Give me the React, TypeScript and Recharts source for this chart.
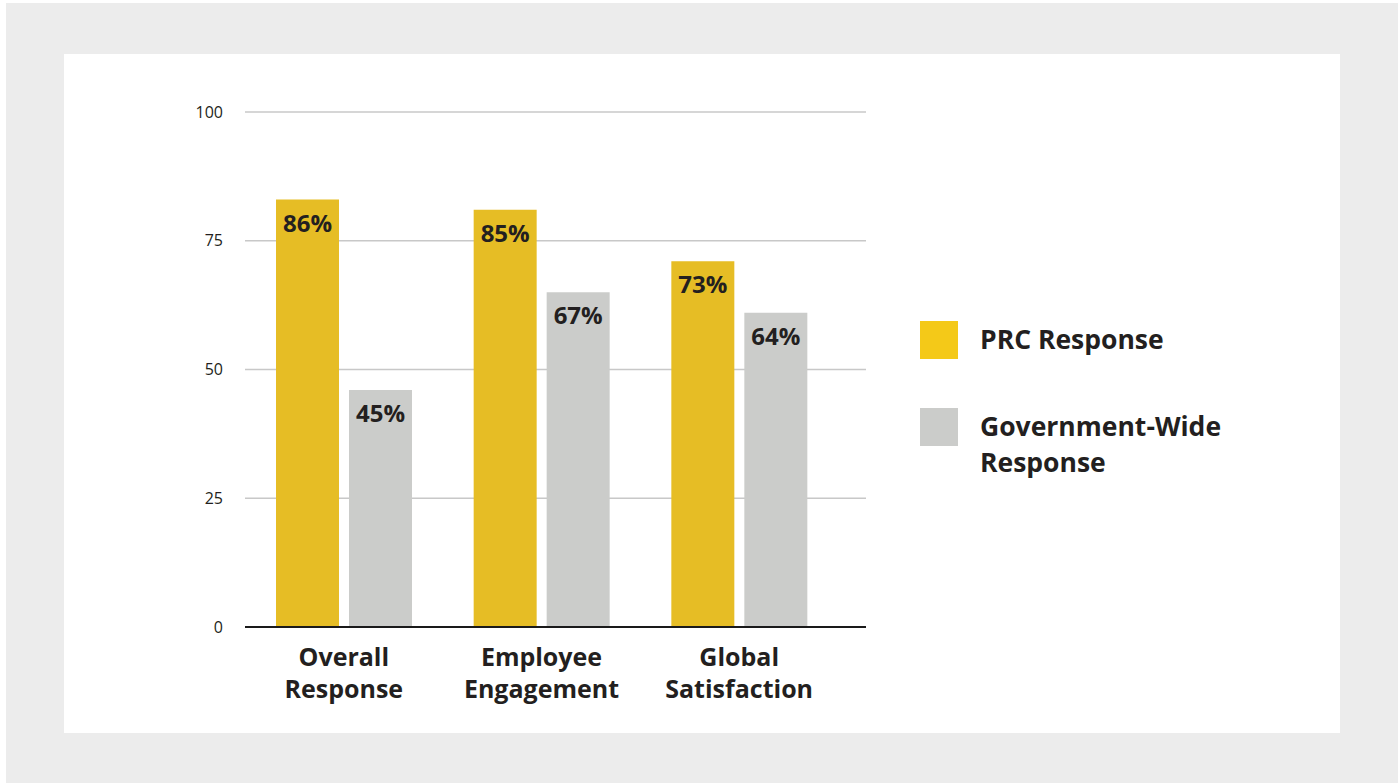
import React from "react";
import { BarChart, Bar, XAxis, YAxis, CartesianGrid, LabelList } from "recharts";

const categories = ["Overall Response", "Employee Engagement", "Global Satisfaction"];
const prcValues = [83, 81, 71];
const govValues = [46, 65, 61];
const prcLabels = ["86%", "85%", "73%"];
const govLabels = ["45%", "67%", "64%"];
const yTicks = [0, 25, 50, 75, 100];
const seriesNames = ["PRC Response", "Government-Wide Response"];

const PRC_COLOR = "#e6bd25";
const PRC_LEGEND = "#f4c918";
const GOV_COLOR = "#cbccca";
const TEXT = "#231f20";
const FONT = "'Open Sans', 'Noto Sans', sans-serif";

const data = categories.map((c, i) => ({
  name: c,
  prc: prcValues[i],
  gov: govValues[i],
  prcLabel: prcLabels[i],
  govLabel: govLabels[i],
}));

const XTick = (props: any) => {
  const { x, y, payload } = props;
  const words = String(payload.value).split(" ");
  return (
    <g>
      {words.map((w: string, i: number) => (
        <text
          key={i}
          x={x}
          y={y + 39 + i * 32}
          textAnchor="middle"
          fontFamily={FONT}
          fontWeight={700}
          fontSize={25}
          fill={TEXT}
        >
          {w}
        </text>
      ))}
    </g>
  );
};

const BarLabel = (props: any) => {
  const { x, y, width, value } = props;
  return (
    <text
      x={x + width / 2}
      y={y + 32}
      textAnchor="middle"
      fontFamily={FONT}
      fontWeight={700}
      fontSize={24}
      fill={TEXT}
    >
      {value}
    </text>
  );
};

export default function App() {
  return (
    <div style={{ position: "absolute", left: 0, top: 0, width: 1400, height: 783, background: "#ffffff" }}>
      <div style={{ position: "absolute", left: 6, top: 3, width: 1392, height: 780, background: "#ececec" }} />
      <div style={{ position: "absolute", left: 64, top: 54, width: 1276, height: 679, background: "#ffffff" }} />
      <div style={{ position: "absolute", left: 0, top: 0 }}>
        <BarChart
          width={1400}
          height={783}
          data={data}
          margin={{ top: 112, right: 534, bottom: 56, left: 185 }}
          barSize={63}
          barGap={10}
        >
          <CartesianGrid vertical={false} stroke="#c8c8c8" strokeWidth={1.5} />
          <YAxis
            width={60}
            domain={[0, 100]}
            ticks={yTicks}
            axisLine={false}
            tickLine={false}
            tickSize={0}
            tickMargin={22}
            tick={{ fontFamily: FONT, fontSize: 16, fill: TEXT }}
          />
          <XAxis
            dataKey="name"
            height={100}
            padding={{ left: 0, right: 28 }}
            axisLine={{ stroke: "#1a1a1a", strokeWidth: 2 }}
            tickLine={false}
            tickSize={0}
            tickMargin={0}
            interval={0}
            tick={<XTick />}
          />
          <Bar dataKey="prc" fill={PRC_COLOR} isAnimationActive={false}>
            <LabelList dataKey="prcLabel" content={<BarLabel />} />
          </Bar>
          <Bar dataKey="gov" fill={GOV_COLOR} isAnimationActive={false}>
            <LabelList dataKey="govLabel" content={<BarLabel />} />
          </Bar>
        </BarChart>
      </div>
      <div style={{ position: "absolute", left: 920, top: 321, width: 38, height: 38, background: PRC_LEGEND }} />
      <div
        style={{
          position: "absolute",
          left: 980,
          top: 321,
          fontFamily: FONT,
          fontWeight: 700,
          fontSize: 26.5,
          lineHeight: "36px",
          color: TEXT,
        }}
      >
        {seriesNames[0]}
      </div>
      <div style={{ position: "absolute", left: 920, top: 408, width: 38, height: 38, background: GOV_COLOR }} />
      <div
        style={{
          position: "absolute",
          left: 980,
          top: 408,
          width: 300,
          fontFamily: FONT,
          fontWeight: 700,
          fontSize: 26.5,
          lineHeight: "36px",
          color: TEXT,
        }}
      >
        {seriesNames[1]}
      </div>
    </div>
  );
}
